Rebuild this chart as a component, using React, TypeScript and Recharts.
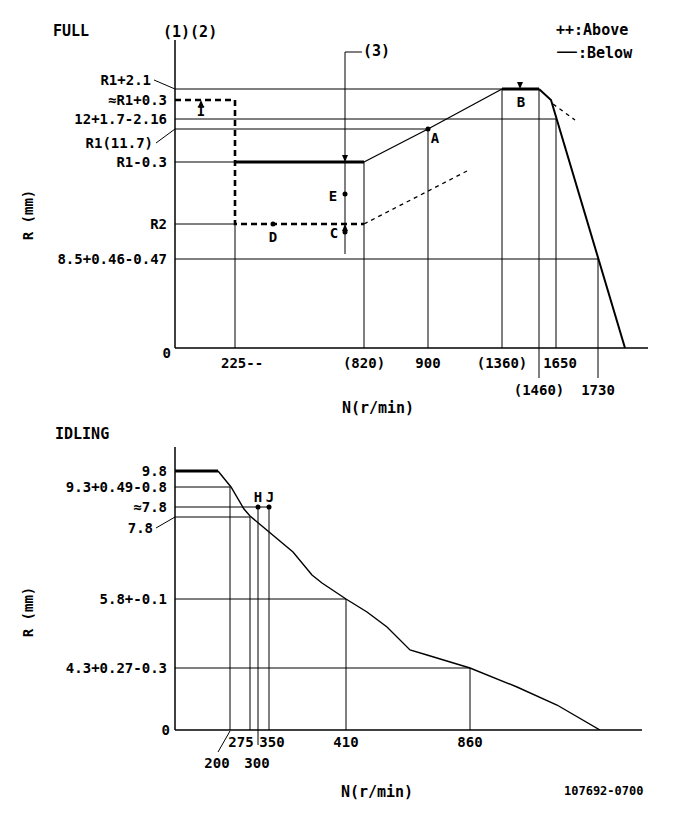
import { ComposedChart, Line, XAxis, YAxis, ReferenceLine, ReferenceDot } from "recharts";

const FONT = "'DejaVu Sans Mono', monospace";
const INK = "#000";

// The governor diagram is schematic, not to scale: every tick sits at a drawn
// position (x = speed position, y = rack position) in chart units.

// ---- FULL ----
const fullSpeedLabels = ["225--", "(820)", "900", "(1360)", "(1460)", "1650", "1730"];
const fullSpeedAt = [60, 189, 253, 327, 364, 381, 423];
const fullRackLabels = ["R1+2.1", "≈R1+0.3", "12+1.7-2.16", "R1(11.7)", "R1-0.3", "R2", "8.5+0.46-0.47", "0"];
const fullRackAt = [259, 248, 229, 219, 186, 124, 89, 0];

const fullThickA = [{ x: 60, y: 186 }, { x: 189, y: 186 }];
const fullRise = [{ x: 189, y: 186 }, { x: 253, y: 219 }, { x: 327, y: 259 }];
const fullThickB = [{ x: 327, y: 259 }, { x: 364, y: 259 }];
const fullDrop = [{ x: 364, y: 259 }, { x: 376, y: 248 }, { x: 450, y: 0 }];
const fullDropAlt = [{ x: 378, y: 244 }, { x: 400, y: 228 }];
const fullStart = [{ x: 0, y: 248 }, { x: 60, y: 248 }, { x: 60, y: 124 }, { x: 189, y: 124 }];
const fullStartRise = [{ x: 189, y: 124 }, { x: 292, y: 177 }];

const fullHGuides = [
  { y: 259, to: 327 },
  { y: 229, to: 381 },
  { y: 219, to: 253 },
  { y: 186, to: 60 },
  { y: 124, to: 60 },
  { y: 89, to: 423 },
];
const fullVGuides = [
  { x: 60, from: 0, to: 124 },
  { x: 189, from: 0, to: 186 },
  { x: 253, from: 0, to: 219 },
  { x: 327, from: 0, to: 259 },
  { x: 364, from: -30, to: 259 },
  { x: 381, from: 0, to: 229 },
  { x: 423, from: -30, to: 89 },
];
const fullMarks = [
  { name: "I", x: 26, y: 248, kind: "up" },
  { name: "D", x: 98, y: 124, kind: "dot" },
  { name: "C", x: 170, y: 124, kind: "upDot" },
  { name: "E", x: 170, y: 154, kind: "dot" },
  { name: "", x: 170, y: 186, kind: "down" },
  { name: "A", x: 253, y: 219, kind: "dot" },
  { name: "B", x: 345, y: 259, kind: "down" },
];

// ---- IDLING ----
const idleSpeedLabels = ["200", "275", "300", "350", "410", "860"];
const idleSpeedAt = [55, 75, 83, 94, 171, 295];
const idleRackLabels = ["9.8", "9.3+0.49-0.8", "≈7.8", "7.8", "5.8+-0.1", "4.3+0.27-0.3", "0"];
const idleRackAt = [259, 243, 223, 213, 131, 62, 0];

const idleThick = [{ x: 0, y: 259 }, { x: 43, y: 259 }];
const idleCurve = [
  { x: 43, y: 259 }, { x: 56, y: 243 }, { x: 69, y: 221 }, { x: 75, y: 214 },
  { x: 118, y: 178 }, { x: 137, y: 155 }, { x: 147, y: 147 }, { x: 171, y: 131 },
  { x: 192, y: 118 }, { x: 212, y: 103 }, { x: 235, y: 80 }, { x: 252, y: 75 },
  { x: 295, y: 62 }, { x: 342, y: 43 }, { x: 382, y: 25 }, { x: 425, y: 0 },
];
const idleHGuides = [
  { y: 243, to: 55 },
  { y: 223, to: 94 },
  { y: 213, to: 75 },
  { y: 131, to: 171 },
  { y: 62, to: 295 },
];
const idleVGuides = [
  { x: 55, from: 0, to: 243 },
  { x: 75, from: 0, to: 213 },
  { x: 83, from: -15, to: 223 },
  { x: 94, from: 0, to: 223 },
  { x: 171, from: 0, to: 131 },
  { x: 295, from: 0, to: 62 },
];
const idleMarks = [
  { name: "H", x: 83, y: 223, kind: "dot" },
  { name: "J", x: 94, y: 223, kind: "dot" },
];

// label placement tweaks
type TickCfg = { dx?: number; dy?: number; row?: number; anchor?: "start" | "middle" | "end"; leader?: boolean };
const fullYCfg: Record<string, TickCfg> = {
  "R1+2.1": { dx: -16, dy: -9, leader: true },
  "R1(11.7)": { dx: -14, dy: 14, leader: true },
  "0": { dx: 4, dy: 5 },
};
const idleYCfg: Record<string, TickCfg> = {
  "7.8": { dx: -14, dy: 11, leader: true },
  "0": { dx: 3, dy: 0 },
};
const fullXCfg: Record<string, TickCfg> = {
  "225--": { dx: -14, anchor: "start" },
  "(1460)": { row: 1 },
  "1650": { dx: 4 },
  "1730": { row: 1 },
};
const idleXCfg: Record<string, TickCfg> = {
  "200": { dx: -13, row: 1, leader: true },
  "275": { dx: -9 },
  "300": { dx: -1, row: 1 },
  "350": { dx: 3 },
};
const markLabelPos: Record<string, [number, number]> = {
  I: [0, 11], D: [0, 13], C: [-11, 9], E: [-12, 2], A: [7, 9], B: [1, 13], H: [0, -10], J: [1, -10],
};

const txt = { fontFamily: FONT, fontWeight: 700, fontSize: 14, fill: INK } as const;

function YTick(props: any) {
  const { x, y, payload, labels, at, cfg } = props;
  const label = labels[at.indexOf(payload.value)];
  const c: TickCfg = cfg[label] || {};
  const tx = x + (c.dx ?? 0);
  const ty = y + (c.dy ?? 0);
  return (
    <g>
      {c.leader && <line x1={tx + 3} y1={ty} x2={x + 8} y2={y} stroke={INK} strokeWidth={1} />}
      <text x={tx} y={ty} dy="0.35em" textAnchor="end" {...txt}>{label}</text>
    </g>
  );
}

function XTick(props: any) {
  const { x, y, payload, labels, at, cfg, rowGap, base } = props;
  const label = labels[at.indexOf(payload.value)];
  const c: TickCfg = cfg[label] || {};
  const tx = x + (c.dx ?? 0);
  const ty = y + base + (c.row ?? 0) * rowGap;
  return (
    <g>
      {c.leader && <line x1={x - 12} y1={y + 14} x2={x} y2={y - 7} stroke={INK} strokeWidth={1} />}
      <text x={tx} y={ty} dy="0.35em" textAnchor={c.anchor ?? "middle"} {...txt}>{label}</text>
    </g>
  );
}

function Mark(props: any) {
  const { cx, cy, kind, name } = props;
  const [lx, ly] = markLabelPos[name] ?? [0, 0];
  return (
    <g>
      {(kind === "dot") && <circle cx={cx} cy={cy} r={2.5} fill={INK} />}
      {(kind === "up" || kind === "upDot") && (
        <polygon points={`${cx - 3},${cy + 7} ${cx + 3},${cy + 7} ${cx},${cy}`} fill={INK} />
      )}
      {kind === "upDot" && <circle cx={cx} cy={cy + 8} r={2.5} fill={INK} />}
      {kind === "down" && <polygon points={`${cx - 3},${cy - 7} ${cx + 3},${cy - 7} ${cx},${cy}`} fill={INK} />}
      {name && (
        <text x={cx + lx} y={cy + ly} dy="0.35em" textAnchor="middle" {...txt}>{name}</text>
      )}
    </g>
  );
}

function seg(pts: { x: number; y: number }[], w: number, dash?: string, key?: string) {
  return (
    <Line
      key={key}
      data={pts}
      dataKey="y"
      type="linear"
      stroke={INK}
      strokeWidth={w}
      strokeDasharray={dash}
      dot={false}
      activeDot={false}
      isAnimationActive={false}
    />
  );
}

function guides(h: { y: number; to: number }[], v: { x: number; from: number; to: number }[]) {
  return [
    ...h.map((g, i) => (
      <ReferenceLine key={`h${i}`} segment={[{ x: 0, y: g.y }, { x: g.to, y: g.y }]} stroke={INK} strokeWidth={1} ifOverflow="visible" />
    )),
    ...v.map((g, i) => (
      <ReferenceLine key={`v${i}`} segment={[{ x: g.x, y: g.from }, { x: g.x, y: g.to }]} stroke={INK} strokeWidth={1} ifOverflow="visible" />
    )),
  ];
}

function marks(list: { name: string; x: number; y: number; kind: string }[]) {
  return list.map((m, i) => (
    <ReferenceDot key={`m${i}`} x={m.x} y={m.y} r={3} ifOverflow="visible" shape={(p: any) => <Mark {...p} kind={m.kind} name={m.name} />} />
  ));
}

function FullChart() {
  return (
    <ComposedChart width={685} height={410} margin={{ top: 40, right: 37, bottom: 0, left: 0 }}>
      <XAxis
        type="number"
        dataKey="x"
        domain={[0, 473]}
        allowDataOverflow
        ticks={fullSpeedAt}
        interval={0}
        tickLine={false}
        axisLine={{ stroke: INK, strokeWidth: 1.5 }}
        height={62}
        tick={(p: any) => <XTick {...p} labels={fullSpeedLabels} at={fullSpeedAt} cfg={fullXCfg} base={7} rowGap={27} />}
      />
      <YAxis
        type="number"
        domain={[0, 308]}
        allowDataOverflow
        ticks={fullRackAt}
        interval={0}
        tickLine={false}
        axisLine={{ stroke: INK, strokeWidth: 1.5 }}
        width={175}
        tick={(p: any) => <YTick {...p} labels={fullRackLabels} at={fullRackAt} cfg={fullYCfg} />}
      />
      {guides(fullHGuides, fullVGuides)}
      <ReferenceLine segment={[{ x: 170, y: 94 }, { x: 170, y: 296 }]} stroke={INK} strokeWidth={1} ifOverflow="visible" />
      <ReferenceLine segment={[{ x: 170, y: 296 }, { x: 187, y: 296 }]} stroke={INK} strokeWidth={1} ifOverflow="visible" />
      {seg(fullStart, 2.6, "6 4", "s1")}
      {seg(fullStartRise, 1.3, "4 4", "s2")}
      {seg(fullThickA, 3, undefined, "s3")}
      {seg(fullRise, 1.3, undefined, "s4")}
      {seg(fullThickB, 3, undefined, "s5")}
      {seg(fullDrop, 2, undefined, "s6")}
      {seg(fullDropAlt, 1.3, "4 4", "s7")}
      {marks(fullMarks)}
    </ComposedChart>
  );
}

function IdleChart() {
  return (
    <ComposedChart width={685} height={411} margin={{ top: 37, right: 43, bottom: 0, left: 0 }}>
      <XAxis
        type="number"
        dataKey="x"
        domain={[0, 467]}
        allowDataOverflow
        ticks={idleSpeedAt}
        interval={0}
        tickLine={false}
        axisLine={{ stroke: INK, strokeWidth: 1.5 }}
        height={91}
        tick={(p: any) => <XTick {...p} labels={idleSpeedLabels} at={idleSpeedAt} cfg={idleXCfg} base={4} rowGap={21} />}
      />
      <YAxis
        type="number"
        domain={[0, 283]}
        allowDataOverflow
        ticks={idleRackAt}
        interval={0}
        tickLine={false}
        axisLine={{ stroke: INK, strokeWidth: 1.5 }}
        width={175}
        tick={(p: any) => <YTick {...p} labels={idleRackLabels} at={idleRackAt} cfg={idleYCfg} />}
      />
      {guides(idleHGuides, idleVGuides)}
      {seg(idleThick, 3, undefined, "i1")}
      {seg(idleCurve, 1.4, undefined, "i2")}
      {marks(idleMarks)}
    </ComposedChart>
  );
}

export default function App() {
  return (
    <div style={{ position: "relative", width: 685, height: 821, background: "#fff" }}>
      <style>{"body{margin:0}"}</style>
      <div style={{ position: "absolute", left: 0, top: 0 }}>
        <FullChart />
      </div>
      <div style={{ position: "absolute", left: 0, top: 410 }}>
        <IdleChart />
      </div>
      <svg width={685} height={821} style={{ position: "absolute", left: 0, top: 0, pointerEvents: "none" }}>
        <text x={53} y={36} {...txt} fontSize={15}>FULL</text>
        <text x={163} y={37} {...txt} fontSize={15}>(1)(2)</text>
        <text x={556} y={35} {...txt} fontSize={15}>++:Above</text>
        <text x={556} y={58} {...txt} fontSize={15}>
          <tspan fontFamily="'DejaVu Sans', sans-serif" fontWeight={400} fontSize={22}>—</tspan>:Below
        </text>
        <text x={363} y={56} {...txt} fontSize={15}>(3)</text>
        <text x={28} y={215} dy="0.35em" textAnchor="middle" transform="rotate(-90 28 215)" {...txt}>R (mm)</text>
        <text x={378} y={413} textAnchor="middle" {...txt} fontSize={15}>N(r/min)</text>
        <text x={55} y={439} {...txt} fontSize={15}>IDLING</text>
        <text x={28} y={612} dy="0.35em" textAnchor="middle" transform="rotate(-90 28 612)" {...txt}>R (mm)</text>
        <text x={377} y={797} textAnchor="middle" {...txt} fontSize={15}>N(r/min)</text>
        <text x={564} y={795} {...txt} fontSize={12}>107692-0700</text>
      </svg>
    </div>
  );
}
